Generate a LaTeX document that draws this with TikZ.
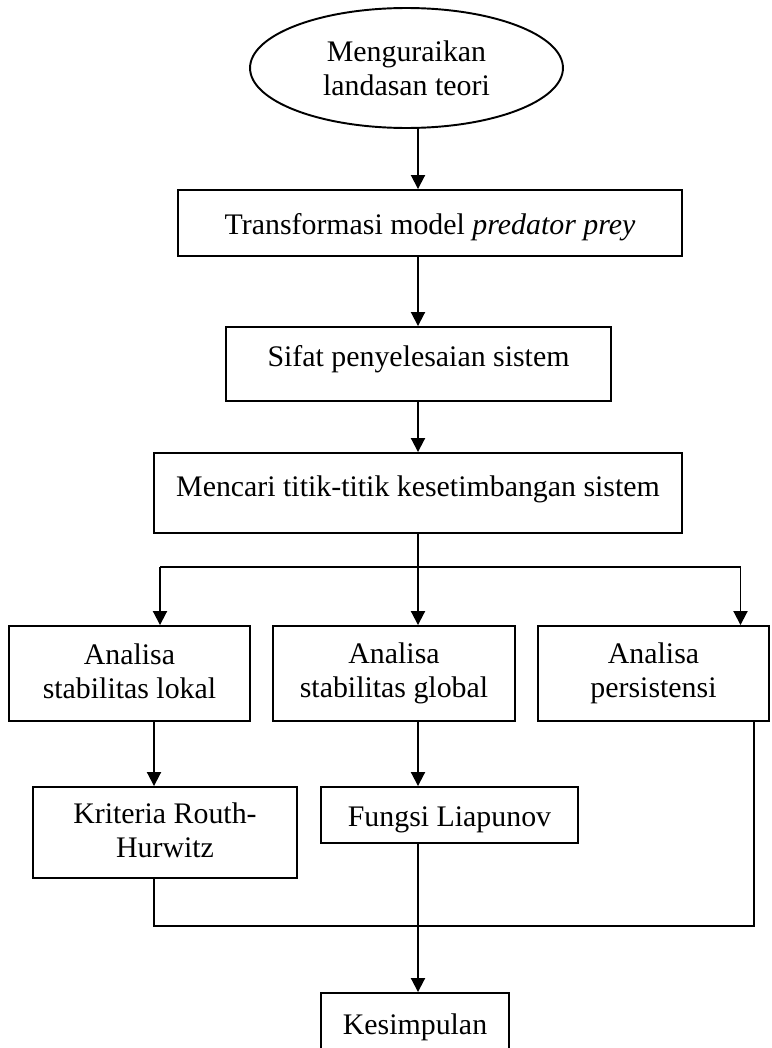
\documentclass[tikz,border=0pt]{standalone}
\usepackage{fontspec}
\setmainfont{Liberation Serif}
\usetikzlibrary{shapes.geometric, arrows.meta}

\newcommand{\boxstrut}{\rule[-0.15\baselineskip]{0pt}{\baselineskip}}

\begin{document}
\begin{tikzpicture}[x=0.02cm, y=-0.02cm,
        font=\fontsize{17}{19.4}\selectfont,
        box/.style={draw, line width=1.1pt, rectangle, inner sep=0pt, align=center,
            execute at begin node=\boxstrut, execute at end node=\boxstrut},
        oval/.style={draw, line width=1.1pt, ellipse, inner sep=0pt, align=center},
        arr/.style={line width=1.1pt, -{Triangle[width=0.28cm, length=0.28cm]}},
        link/.style={line width=1.1pt}]
    \useasboundingbox (0,0) rectangle (771,1048);

    % Start
    \node[oval, minimum width=6.26cm, minimum height=2.4cm] (teori) at (406.5,68) {Menguraikan\\landasan teori};

    % Main steps
    \node[box, minimum width=10.08cm, minimum height=1.32cm] (transf) at (430,223) {Transformasi model \textit{predator prey}};
    \node[box, minimum width=7.7cm, text height=0.794cm, text depth=0.686cm] (sifat) at (418.5,364) {Sifat penyelesaian sistem};
    \node[box, minimum width=10.56cm, text height=0.874cm, text depth=0.726cm] (mencari) at (418,493) {Mencari titik-titik kesetimbangan sistem};

    % Analysis
    \node[box, minimum width=4.82cm, minimum height=1.9cm] (lokal) at (129.5,673.5) {Analisa\\stabilitas lokal};
    \node[box, minimum width=4.84cm, minimum height=1.9cm] (global) at (394,673.5) {Analisa\\stabilitas global};
    \node[box, minimum width=4.62cm, minimum height=1.9cm] (pers) at (653.5,673.5) {Analisa\\persistensi};

    % Methods
    \node[box, minimum width=5.28cm, minimum height=1.82cm] (routh) at (165,832.5) {Kriteria Routh-\\Hurwitz};
    \node[box, minimum width=5.14cm, minimum height=1.12cm] (liap) at (449.5,815) {Fungsi Liapunov};

    % End
    \node[box, minimum width=3.76cm, minimum height=1.2cm] (kes) at (415,1023) {Kesimpulan};

    % Connectors
    \coordinate (spine) at (418,0);
    \coordinate (dl) at (160,567);
    \coordinate (dr) at (740.5,567);
    \coordinate (jl) at (154,926);
    \coordinate (jr) at (754,926);

    \draw[arr] (teori.south -| spine) -- (transf.north -| spine);
    \draw[arr] (transf.south -| spine) -- (sifat.north -| spine);
    \draw[arr] (sifat.south -| spine) -- (mencari.north -| spine);
    \draw[link] (mencari.south -| spine) -- (dl -| spine);
    \draw[link] (dl) -- (dr);
    \draw[arr] (dl) -- (lokal.north -| dl);
    \draw[arr] (dl -| spine) -- (global.north -| spine);
    \draw[arr] (dr) -- (pers.north -| dr);
    \draw[arr] (lokal.south -| jl) -- (routh.north -| jl);
    \draw[arr] (global.south -| spine) -- (liap.north -| spine);
    \draw[link] (routh.south -| jl) -- (jl) -- (jr) -- (pers.south -| jr);
    \draw[arr] (liap.south -| spine) -- (kes.north -| spine);
\end{tikzpicture}
\end{document}
